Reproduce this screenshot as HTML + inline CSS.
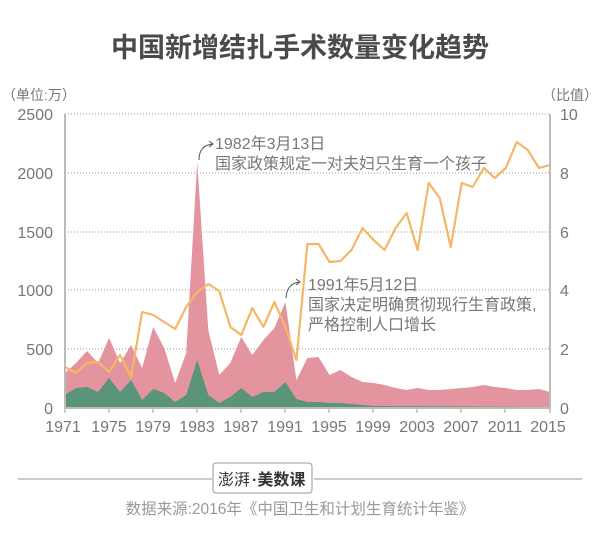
<!DOCTYPE html>
<html><head><meta charset="utf-8"><style>
body{margin:0;background:#fff;}
svg text{font-family:"Liberation Sans","Noto Sans CJK SC",sans-serif;}
</style></head><body>
<svg width="600" height="533" viewBox="0 0 600 533" xmlns="http://www.w3.org/2000/svg">
<text x="300" y="57" text-anchor="middle" font-size="27" font-weight="bold" fill="#4a4a4a">中国新增结扎手术数量变化趋势</text>
<text x="2" y="100" font-size="14" fill="#777">（单位:万）</text>
<text x="598" y="100" font-size="14" fill="#777" text-anchor="end">（比值）</text>
<g stroke="#999" stroke-width="1" stroke-dasharray="1,2">
<line x1="65" y1="114" x2="550" y2="114"/><line x1="65" y1="173" x2="550" y2="173"/>
<line x1="65" y1="232" x2="550" y2="232"/><line x1="65" y1="290" x2="550" y2="290"/>
<line x1="65" y1="349" x2="550" y2="349"/>
</g>
<g font-size="16" fill="#777" text-anchor="end">
<text x="53" y="120">2500</text><text x="53" y="179">2000</text><text x="53" y="238">1500</text>
<text x="53" y="296">1000</text><text x="53" y="355">500</text><text x="53" y="414">0</text>
</g>
<g font-size="16" fill="#777">
<text x="560" y="120">10</text><text x="560" y="179">8</text><text x="560" y="238">6</text>
<text x="560" y="296">4</text><text x="560" y="355">2</text><text x="560" y="414">0</text>
</g>
<polygon fill="#e4949e" points="65,408 65,373 76,363 87,351 98.1,363 109.1,338 120.1,363 131.1,345 142.1,368 153.2,327 164.2,348 175.2,383 186.2,353 197.2,162 208.3,330 219.3,375 230.3,363 241.3,337 252.3,355 263.4,340 274.4,328 285.4,302 296.4,380 307.4,358 318.5,357 329.5,375 340.5,370 351.5,377 362.5,382 373.6,383 384.6,385 395.6,388 406.6,390 417.6,388 428.7,390 439.7,390 450.7,389 461.7,388 472.7,387 483.8,385 494.8,387 505.8,388 516.8,390 527.8,390 538.9,389 550,392 550,408"/>
<polygon fill="#5a9479" points="65,408 65,395 76,388 87,387 98.1,392 109.1,378 120.1,392 131.1,380 142.1,400 153.2,389 164.2,393 175.2,402 186.2,395 197.2,360 208.3,395 219.3,403 230.3,397 241.3,388 252.3,397 263.4,392 274.4,392 285.4,382 296.4,399 307.4,402 318.5,402 329.5,403 340.5,403 351.5,404 362.5,405 373.6,406 550,407 550,408"/>
<polyline fill="none" stroke="#f5b766" stroke-width="2.2" stroke-linejoin="round" points="65,367 76,373 87,363 98.1,362 109.1,372 120.1,355 131.1,377 142.1,312 153.2,315 164.2,322 175.2,329 186.2,307 197.2,292 208.3,284 219.3,291 230.3,327 241.3,335 252.3,308 263.4,327 274.4,302 285.4,327 296.4,360 307.4,244 318.5,244 329.5,262 340.5,261 351.5,250 362.5,228 373.6,240 384.6,250 395.6,228 406.6,213 417.6,250 428.7,183 439.7,198 450.7,247 461.7,183 472.7,187 483.8,168 494.8,178 505.8,168 516.8,142 527.8,150 538.9,168 550,165"/>
<g stroke="#bbb" stroke-width="2"><line x1="65" y1="114" x2="65" y2="409"/><line x1="550" y1="114" x2="550" y2="409"/><line x1="64" y1="408" x2="551" y2="408"/></g>
<g stroke="#bbb" stroke-width="1.5">
<line x1="65" y1="408" x2="65" y2="413"/><line x1="109" y1="408" x2="109" y2="413"/><line x1="153" y1="408" x2="153" y2="413"/><line x1="197" y1="408" x2="197" y2="413"/><line x1="241" y1="408" x2="241" y2="413"/><line x1="285" y1="408" x2="285" y2="413"/><line x1="329" y1="408" x2="329" y2="413"/><line x1="373" y1="408" x2="373" y2="413"/><line x1="417" y1="408" x2="417" y2="413"/><line x1="461" y1="408" x2="461" y2="413"/><line x1="505" y1="408" x2="505" y2="413"/><line x1="550" y1="408" x2="550" y2="413"/>
</g>
<g font-size="16" fill="#777" text-anchor="middle">
<text x="63" y="432">1971</text><text x="109" y="432">1975</text><text x="153" y="432">1979</text><text x="197" y="432">1983</text><text x="241" y="432">1987</text><text x="285" y="432">1991</text><text x="329" y="432">1995</text><text x="373" y="432">1999</text><text x="417" y="432">2003</text><text x="461" y="432">2007</text><text x="505" y="432">2011</text><text x="548" y="432">2015</text>
</g>
<g fill="none" stroke="#555" stroke-width="1">
<path d="M199,160 Q199,145 213,144"/><path d="M209,141 L213,144 L209,147"/>
<path d="M286,298 Q287,283 300,282"/><path d="M296,279 L300,282 L296,285"/>
</g>
<g font-size="16" fill="#777">
<text x="215" y="149">1982年3月13日</text>
<text x="215" y="169">国家政策规定一对夫妇只生育一个孩子</text>
<text x="308" y="290">1991年5月12日</text>
<text x="308" y="310">国家决定明确贯彻现行生育政策,</text>
<text x="308" y="330">严格控制人口增长</text>
</g>
<line x1="18" y1="479" x2="212" y2="479" stroke="#999" stroke-width="1"/>
<line x1="314" y1="479" x2="582" y2="479" stroke="#999" stroke-width="1"/>
<rect x="213" y="463" width="99" height="30" rx="3" fill="#fff" stroke="#999" stroke-width="1"/>
<text x="218" y="485" font-size="16" fill="#333" font-family="'Noto Serif CJK SC',serif">澎湃</text>
<text x="252" y="485" font-size="16" fill="#333" font-weight="bold">·美数课</text>
<text x="300" y="514" text-anchor="middle" font-size="15.5" fill="#999">数据来源:2016年《中国卫生和计划生育统计年鉴》</text>
</svg>
</body></html>
